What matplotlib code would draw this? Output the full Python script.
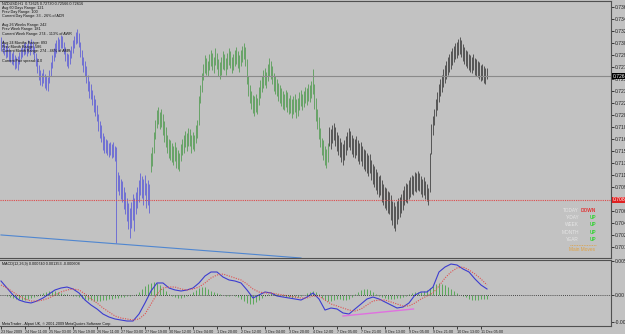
import numpy as np
import matplotlib
matplotlib.use("Agg")
import matplotlib.pyplot as plt

plt.rcParams['font.family'] = ['Liberation Sans', 'DejaVu Sans']

# ---------------- data ----------------
highs = [
 0.7318,0.7314,0.7310,0.7305,0.7309,0.7302,0.7300,0.7296,0.7298,0.7292,
 0.7290,0.7291,0.7297,0.7303,0.7306,0.7310,0.7312,0.7309,0.7314,0.7311,
 0.7316,0.7313,0.7306,0.7296,0.7288,0.7278,0.7270,0.7266,0.7272,0.7265,
 0.7262,0.7260,0.7271,0.7282,0.7293,0.7302,0.7310,0.7314,0.7318,0.7316,
 0.7322,0.7320,0.7312,0.7304,0.7296,0.7294,0.7300,0.7306,0.7314,0.7320,
 0.7326,0.7331,0.7325,0.7312,0.7300,0.7290,0.7284,0.7276,0.7264,0.7254,
 0.7250,0.7242,0.7234,0.7228,0.7220,0.7206,0.7196,0.7190,0.7178,0.7174,
 0.7170,0.7168,0.7164,0.7166,0.7162,0.7165,0.7160,0.7158,0.7122,0.7118,
 0.7112,0.7108,0.7100,0.7092,0.7084,0.7076,0.7070,0.7078,0.7090,0.7084,
 0.7092,0.7100,0.7110,0.7120,0.7116,0.7112,0.7118,0.7106,0.7110,0.7104,
 0.7150,0.7158,0.7180,0.7198,0.7212,0.7217,0.7210,0.7214,0.7206,0.7196,
 0.7188,0.7176,0.7170,0.7168,0.7164,0.7160,0.7166,0.7158,0.7154,0.7150,
 0.7162,0.7170,0.7176,0.7182,0.7178,0.7186,0.7184,0.7176,0.7180,0.7176,
 0.7190,0.7198,0.7232,0.7248,0.7266,0.7280,0.7292,0.7288,0.7284,0.7294,
 0.7300,0.7296,0.7290,0.7302,0.7296,0.7286,0.7282,0.7290,0.7298,0.7294,
 0.7288,0.7296,0.7302,0.7298,0.7290,0.7294,0.7300,0.7304,0.7298,0.7292,
 0.7300,0.7306,0.7310,0.7304,0.7286,0.7262,0.7248,0.7240,0.7234,0.7232,
 0.7236,0.7230,0.7246,0.7256,0.7262,0.7270,0.7274,0.7268,0.7280,0.7288,
 0.7284,0.7276,0.7266,0.7262,0.7258,0.7252,0.7248,0.7244,0.7240,0.7236,
 0.7242,0.7238,0.7230,0.7234,0.7228,0.7232,0.7236,0.7228,0.7230,0.7238,
 0.7242,0.7236,0.7240,0.7246,0.7244,0.7250,0.7248,0.7254,0.7272,0.7250,
 0.7230,0.7214,0.7202,0.7186,0.7172,0.7168,0.7160,0.7156,0.7164,0.7188,
 0.7184,0.7190,0.7194,0.7188,0.7180,0.7176,0.7172,0.7166,0.7162,0.7168,
 0.7174,0.7180,0.7186,0.7182,0.7176,0.7172,0.7170,0.7174,0.7168,0.7164,
 0.7166,0.7160,0.7156,0.7154,0.7150,0.7146,0.7148,0.7140,0.7134,0.7130,
 0.7126,0.7122,0.7116,0.7118,0.7110,0.7104,0.7100,0.7098,0.7094,0.7092,
 0.7088,0.7080,0.7078,0.7072,0.7080,0.7084,0.7086,0.7090,0.7096,0.7102,
 0.7106,0.7104,0.7110,0.7114,0.7118,0.7116,0.7122,0.7120,0.7124,0.7120,
 0.7116,0.7112,0.7114,0.7108,0.7104,0.7098,0.7150,0.7192,0.7204,0.7214,
 0.7228,0.7238,0.7250,0.7258,0.7264,0.7272,0.7278,0.7284,0.7290,0.7294,
 0.7298,0.7302,0.7306,0.7310,0.7312,0.7316,0.7318,0.7314,0.7308,0.7304,
 0.7300,0.7298,0.7294,0.7292,0.7290,0.7294,0.7288,0.7286,0.7284,0.7282,
 0.7278,0.7280,0.7276,0.7274,0.7273]

lows = [
 0.7298,0.7296,0.7293,0.7288,0.7290,0.7284,0.7282,0.7280,0.7278,0.7272,
 0.7274,0.7270,0.7279,0.7286,0.7290,0.7292,0.7294,0.7291,0.7296,0.7293,
 0.7298,0.7294,0.7286,0.7276,0.7266,0.7256,0.7248,0.7247,0.7252,0.7244,
 0.7242,0.7240,0.7252,0.7262,0.7274,0.7284,0.7290,0.7296,0.7300,0.7298,
 0.7303,0.7302,0.7294,0.7284,0.7276,0.7274,0.7280,0.7288,0.7295,0.7302,
 0.7308,0.7310,0.7304,0.7290,0.7278,0.7268,0.7262,0.7252,0.7240,0.7230,
 0.7228,0.7220,0.7210,0.7204,0.7196,0.7182,0.7172,0.7166,0.7154,0.7150,
 0.7150,0.7146,0.7144,0.7146,0.7142,0.7144,0.7138,0.7018,0.7094,0.7088,
 0.7082,0.7078,0.7068,0.7060,0.7050,0.7038,0.7026,0.7040,0.7052,0.7036,
 0.7060,0.7070,0.7078,0.7088,0.7084,0.7074,0.7088,0.7070,0.7074,0.7062,
 0.7122,0.7130,0.7150,0.7170,0.7186,0.7192,0.7184,0.7188,0.7176,0.7166,
 0.7158,0.7150,0.7142,0.7140,0.7136,0.7132,0.7138,0.7128,0.7126,0.7124,
 0.7138,0.7146,0.7150,0.7158,0.7152,0.7160,0.7160,0.7150,0.7156,0.7152,
 0.7164,0.7172,0.7190,0.7222,0.7238,0.7256,0.7266,0.7264,0.7262,0.7270,
 0.7276,0.7270,0.7266,0.7278,0.7272,0.7262,0.7258,0.7264,0.7272,0.7270,
 0.7264,0.7272,0.7278,0.7274,0.7266,0.7270,0.7276,0.7280,0.7274,0.7268,
 0.7276,0.7282,0.7286,0.7276,0.7250,0.7232,0.7222,0.7214,0.7208,0.7204,
 0.7210,0.7206,0.7220,0.7230,0.7238,0.7244,0.7248,0.7244,0.7254,0.7262,
 0.7258,0.7250,0.7240,0.7236,0.7232,0.7226,0.7222,0.7218,0.7214,0.7212,
 0.7216,0.7210,0.7206,0.7208,0.7200,0.7206,0.7210,0.7200,0.7204,0.7212,
 0.7218,0.7212,0.7216,0.7222,0.7220,0.7226,0.7224,0.7230,0.7236,0.7214,
 0.7196,0.7184,0.7170,0.7158,0.7146,0.7140,0.7132,0.7128,0.7136,0.7160,
 0.7156,0.7164,0.7168,0.7160,0.7152,0.7146,0.7144,0.7136,0.7132,0.7140,
 0.7146,0.7154,0.7158,0.7154,0.7148,0.7144,0.7142,0.7146,0.7138,0.7134,
 0.7138,0.7130,0.7126,0.7124,0.7120,0.7116,0.7120,0.7110,0.7104,0.7100,
 0.7096,0.7090,0.7086,0.7088,0.7078,0.7074,0.7070,0.7066,0.7062,0.7060,
 0.7052,0.7044,0.7040,0.7036,0.7046,0.7054,0.7056,0.7062,0.7066,0.7074,
 0.7078,0.7076,0.7082,0.7086,0.7090,0.7088,0.7094,0.7092,0.7096,0.7094,
 0.7090,0.7086,0.7088,0.7082,0.7080,0.7074,0.7092,0.7148,0.7176,0.7190,
 0.7204,0.7212,0.7224,0.7232,0.7238,0.7246,0.7252,0.7258,0.7264,0.7268,
 0.7272,0.7278,0.7282,0.7286,0.7288,0.7292,0.7294,0.7290,0.7284,0.7280,
 0.7276,0.7274,0.7270,0.7268,0.7266,0.7270,0.7264,0.7262,0.7260,0.7258,
 0.7254,0.7256,0.7252,0.7250,0.7257]

# trend-state runs of the coloured bars (down / up / flat)
state_lengths = [100, 119, 106]
state_colors = ['#5a5ad8', '#4f9a4f', '#383838']

last_close = 0.72616
red_level = 0.70813
trend_bars = [0, 200]
trend_prices = [0.70300, 0.69964]

# MACD(12,26,9) sampled every 4 bars
macd_step = 4
macd = [0.00228, 0.00114, 0.00000, -0.00082, -0.00114, -0.00130, -0.00098, -0.00049, 0.00016, 0.00082,
        0.00114, 0.00130, 0.00098, 0.00033, -0.00082, -0.00163, -0.00228, -0.00310, -0.00359, -0.00391,
        -0.00408, -0.00424, -0.00424, -0.00310, -0.00130, 0.00065, 0.00196, 0.00196, 0.00114, 0.00082,
        0.00065, 0.00082, 0.00114, 0.00196, 0.00310, 0.00375, 0.00375, 0.00293, 0.00245, 0.00228,
        0.00196, 0.00082, -0.00049, 0.00000, 0.00049, 0.00033, -0.00016, -0.00033, -0.00049, -0.00065,
        -0.00082, -0.00033, 0.00033, -0.00065, -0.00245, -0.00212, -0.00228, -0.00293, -0.00310, -0.00228,
        -0.00147, -0.00065, -0.00033, -0.00065, -0.00114, -0.00163, -0.00212, -0.00196, -0.00130, 0.00000,
        0.00049, 0.00049, 0.00130, 0.00375, 0.00456, 0.00505, 0.00489, 0.00424, 0.00375, 0.00261,
        0.00163, 0.00098]
signal = [0.00163, 0.00114, 0.00049, -0.00016, -0.00065, -0.00098, -0.00098, -0.00082, -0.00049, 0.00000,
          0.00049, 0.00082, 0.00098, 0.00082, 0.00016, -0.00065, -0.00130, -0.00212, -0.00277, -0.00342,
          -0.00375, -0.00391, -0.00408, -0.00391, -0.00310, -0.00147, 0.00016, 0.00114, 0.00130, 0.00130,
          0.00098, 0.00082, 0.00098, 0.00130, 0.00196, 0.00277, 0.00326, 0.00342, 0.00310, 0.00277,
          0.00245, 0.00179, 0.00098, 0.00049, 0.00033, 0.00033, 0.00016, 0.00000, -0.00016, -0.00033,
          -0.00049, -0.00049, -0.00016, -0.00016, -0.00082, -0.00147, -0.00179, -0.00212, -0.00245, -0.00261,
          -0.00228, -0.00163, -0.00098, -0.00082, -0.00082, -0.00114, -0.00147, -0.00179, -0.00179, -0.00130,
          -0.00065, -0.00016, 0.00033, 0.00147, 0.00277, 0.00375, 0.00440, 0.00456, 0.00408, 0.00342,
          0.00261, 0.00163]
# histogram sampled every 2 bars
hist_step = 2
hist = [0, 0, -0.00016,
        -0.00033, -0.00049, -0.00065, -0.00065, -0.00081, -0.00081, -0.00065, -0.00049, -0.00033, -0.00016,
        0.00016, 0.00033, 0.00049, 0.00065, 0.00065, 0.00065, 0.00049, 0.00033,
        0.00016, 0.00016, 0, -0.00016, -0.00016, -0.00033,
        -0.00049, -0.00065, -0.00081, -0.00081, -0.00098, -0.00098, -0.00098, -0.00081, -0.00081, -0.00065,
        -0.00065, -0.00049, -0.00049, -0.00033, -0.00033, -0.00016, -0.00016, 0, 0.00016, 0.00049,
        0.00098, 0.00147, 0.00179, 0.00196, 0.00212, 0.00196, 0.00163, 0.00114, 0.00065, 0.00016,
        -0.00016, -0.00033, -0.00049, -0.00049, -0.00033, -0.00016,
        0.00016, 0.00049, 0.00081, 0.00114, 0.00130, 0.00130, 0.00098, 0.00065,
        0.00049, 0.00033, 0.00016, 0, -0.00016, -0.00016, 0, -0.00016,
        -0.00033, -0.00065, -0.00098, -0.00130, -0.00147, -0.00147, -0.00114, -0.00081, -0.00049, -0.00016,
        0.00016, 0.00033, 0.00033, 0.00016, 0,
        -0.00016, -0.00033, -0.00033, -0.00049, -0.00033, -0.00033, -0.00016, 0,
        0.00033, 0.00049, 0.00065, 0.00049, 0.00016,
        -0.00049, -0.00081, -0.00098, -0.00098, -0.00081, -0.00065, -0.00065, -0.00081, -0.00081, -0.00065, -0.00033,
        0.00016, 0.00049, 0.00081, 0.00098, 0.00098, 0.00081, 0.00049, 0.00016,
        -0.00016, -0.00033, -0.00049, -0.00065, -0.00065, -0.00065, -0.00049, -0.00049, -0.00033, -0.00016,
        0.00016, 0.00033, 0.00049, 0.00049, 0.00049, 0.00065,
        0.00081, 0.00114, 0.00147, 0.00179, 0.00196, 0.00179, 0.00163, 0.00130, 0.00098, 0.00065, 0.00033,
        0, -0.00016, -0.00033, -0.00065, -0.00081, -0.00081, -0.00081, -0.00065, -0.00065, -0.00065]
div_bars = [228, 275]
div_values = [-0.00342, -0.00228]

price_ticks = [0.73620, 0.73445, 0.73270, 0.73095, 0.72920, 0.72745, 0.72570, 0.72395, 0.72220,
               0.72045, 0.71870, 0.71695, 0.71520, 0.71345, 0.71170, 0.70995, 0.70820, 0.70645,
               0.70470, 0.70295, 0.70120]
date_step = 16
date_labels = ["23 Nov 2009", "24 Nov 11:00", "25 Nov 03:00", "25 Nov 19:00", "26 Nov 11:00",
               "27 Nov 03:00", "27 Nov 19:00", "30 Nov 12:00", "1 Dec 04:00", "1 Dec 20:00",
               "2 Dec 12:00", "3 Dec 04:00", "3 Dec 20:00", "4 Dec 12:00", "7 Dec 05:00",
               "7 Dec 21:00", "8 Dec 13:00", "9 Dec 05:00", "9 Dec 21:00", "10 Dec 13:00",
               "11 Dec 05:00"]
macd_ticks = [0.00554, 0.0, -0.00440]
macd_tick_labels = ["0.005540", "0.00", "-0.004400"]

header_lines = ["NZDUSD,H1  0.72625 0.72730 0.72566 0.72616",
                "Avg 60 Days Range: 121",
                "Prev Day Range: 100",
                "Current Day Range: 33 - 26% of ADR",
                "",
                "Avg 26 Weeks Range: 242",
                "Prev Week Range: 181",
                "Current Week Range: 274 - 113% of AWR",
                "",
                "Avg 24 Months Range: 893",
                "Prev Month Range: 586",
                "Current Month Range: 274 - 46% of AMR",
                "",
                "Current Pair spread: 4.0"]
moves_names = ["TODAY", "Y-DAY", "WEEK", "MONTH", "YEAR"]
moves_dirs = ["DOWN", "UP", "UP", "UP", "UP"]

# ---------------- figure ----------------
W, H = 625, 334
BG = '#c2c2c2'
fig = plt.figure(figsize=(W / 100, H / 100), dpi=100)
fig.patch.set_facecolor(BG)

def fx(px):
    return px / W

def fy(py):
    return 1 - py / H

ax = fig.add_axes([0, fy(258), fx(611), (258 - 1) / H])
ax2 = fig.add_axes([0, fy(326), fx(611), (326 - 260) / H])
for a in (ax, ax2):
    a.set_facecolor(BG)
    for s in a.spines.values():
        s.set_color('#505050')
        s.set_linewidth(0.8)
    a.spines['left'].set_visible(False)

n = len(highs)
idx = np.arange(n)
cols = []
for ln, c in zip(state_lengths, state_colors):
    cols += [c] * ln
ax.vlines(idx, lows, highs, colors=cols, linewidth=0.55)

ax.axhline(last_close, color='#8a8a8a', lw=0.8)
ax.axhline(red_level, color='#e04848', lw=0.8, ls=(0, (1, 1)))
ax.plot(trend_bars, trend_prices, color='#4f86d0', lw=0.8)

ax.set_xlim(-0.667, 406.67)
ax.set_ylim(0.69964, 0.737119)
ax.set_xticks([])
ax.yaxis.tick_right()
ax.set_yticks(price_ticks)
ax.set_yticklabels([f"{p:.5f}" for p in price_ticks])
ax.tick_params(axis='y', direction='out', length=2, width=0.6, colors='#222222',
               labelsize=3.6, pad=1)

for val, fc in ((last_close, 'black'), (red_level, '#e02020')):
    ax.annotate(f"{val:.5f}", xy=(1, val), xycoords=('axes fraction', 'data'),
                xytext=(1.2, 0), textcoords='offset points', fontsize=3.6, color='white',
                va='center', ha='left',
                bbox=dict(boxstyle='square,pad=0.15', fc=fc, ec='none'))

# MACD panel
ax2.vlines(np.arange(len(hist)) * hist_step, 0, hist, colors='#5aa85a', lw=0.7)
ax2.plot(np.arange(len(macd)) * macd_step, macd, color='#3c3cd0', lw=0.8)
ax2.plot(np.arange(len(signal)) * macd_step, signal, color='#e05050', lw=0.8, ls=(0, (1, 1.2)))
ax2.axhline(0, color='#202020', lw=0.6, ls=(0, (1, 1.5)))
ax2.plot(div_bars, div_values, color='#e070e0', lw=1.0)
ax2.set_xlim(-0.667, 406.67)
ax2.set_ylim(-0.005053, 0.005705)
ax2.yaxis.tick_right()
ax2.set_yticks(macd_ticks)
ax2.set_yticklabels(macd_tick_labels)
ax2.tick_params(axis='y', direction='out', length=2, width=0.6, colors='#222222',
                labelsize=3.6, pad=1)
ax2.set_xticks(np.arange(len(date_labels)) * date_step)
ax2.set_xticklabels(date_labels, ha='left')
ax2.tick_params(axis='x', direction='out', length=2, width=0.6, colors='#222222',
                labelsize=2.7, pad=0.6)

# texts
ys = [3.8, 7.8, 11.8, 15.8, 0, 25.0, 29.3, 33.6, 0, 42.7, 47.0, 51.3, 0, 60.7]
for t, yy in zip(header_lines, ys):
    if t:
        fig.text(fx(2), fy(yy), t, fontsize=2.7, color='#101010', va='center', ha='left')

fig.text(fx(2), fy(264), "MACD(12,26,9) 0.000740 0.001353 -0.000608", fontsize=2.7,
         color='#101010', va='center', ha='left')
fig.text(fx(2), fy(323.5), "MetaTrader - Alpari UK, \u00a9 2001-2009 MetaQuotes Software Corp.",
         fontsize=2.7, color='#101010', va='center', ha='left')

row_y = [210, 217.3, 224.7, 232, 239.3]
for name, d, yy in zip(moves_names, moves_dirs, row_y):
    fig.text(fx(579), fy(yy), name, fontsize=3.4, color='#e6e6e6', va='center', ha='right')
    fig.text(fx(596), fy(yy), d, fontsize=3.4, fontweight='bold',
             color='#e03838' if d == 'DOWN' else '#3ad23a', va='center', ha='right')
fig.add_artist(plt.Line2D([fx(570), fx(596)], [fy(245.3), fy(245.3)], color='#e0a040',
                          lw=0.6, ls=(0, (1, 1))))
fig.text(fx(582), fy(249.5), "Main Moves", fontsize=3.4, color='#e0a040', va='center', ha='center')

fig.savefig('out.png', dpi=100, facecolor=BG)
